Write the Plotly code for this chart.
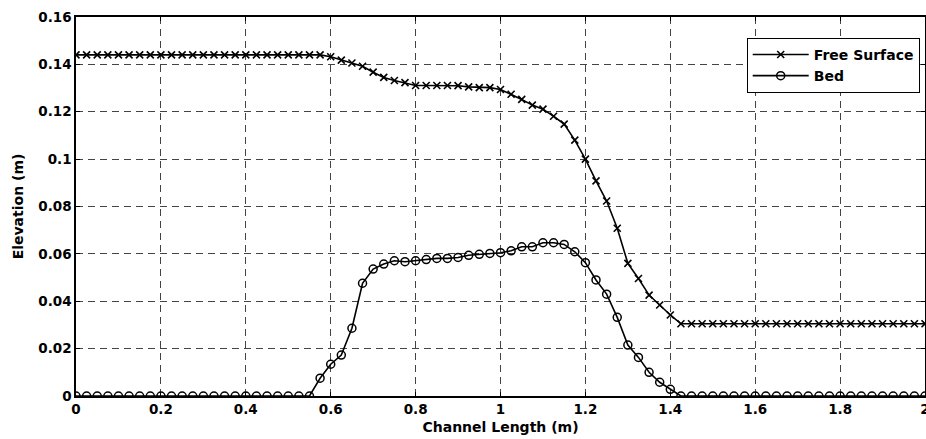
import plotly.graph_objects as go

channel_x = [0.0, 0.025, 0.05, 0.075, 0.1, 0.125, 0.15, 0.175, 0.2, 0.225, 0.25, 0.275,
             0.3, 0.325, 0.35, 0.375, 0.4, 0.425, 0.45, 0.475, 0.5, 0.525, 0.55, 0.575,
             0.6, 0.625, 0.65, 0.675, 0.7, 0.725, 0.75, 0.775, 0.8, 0.825, 0.85, 0.875,
             0.9, 0.925, 0.95, 0.975, 1.0, 1.025, 1.05, 1.075, 1.1, 1.125, 1.15, 1.175,
             1.2, 1.225, 1.25, 1.275, 1.3, 1.325, 1.35, 1.375, 1.4, 1.425, 1.45, 1.475,
             1.5, 1.525, 1.55, 1.575, 1.6, 1.625, 1.65, 1.675, 1.7, 1.725, 1.75, 1.775,
             1.8, 1.825, 1.85, 1.875, 1.9, 1.925, 1.95, 1.975, 2.0]

free_surface = [0.144] * 24 + [
    0.1432, 0.1418, 0.1406, 0.1392, 0.1367, 0.1345, 0.1332, 0.1323, 0.1311, 0.1311,
    0.1311, 0.1311, 0.1310, 0.1305, 0.1302, 0.1302, 0.1294, 0.1274, 0.1252, 0.1228,
    0.1211, 0.1181, 0.1148, 0.1080, 0.1000, 0.0908, 0.0823, 0.0708, 0.0560, 0.0496,
    0.0426, 0.0384, 0.0342, 0.0305] + [0.0305] * 23

bed = [0.0] * 23 + [
    0.0075, 0.0134, 0.0173, 0.0286, 0.0476, 0.0536, 0.0557, 0.0571, 0.0567, 0.0571,
    0.0576, 0.0581, 0.0581, 0.0585, 0.0594, 0.0598, 0.0602, 0.0605, 0.0613, 0.0630,
    0.0630, 0.0647, 0.0647, 0.0640, 0.0609, 0.0563, 0.0490, 0.0430, 0.0332, 0.0215,
    0.0163, 0.0100, 0.0058, 0.0028] + [0.0] * 24

x_ticks = [0, 0.2, 0.4, 0.6, 0.8, 1.0, 1.2, 1.4, 1.6, 1.8, 2.0]
x_labels = ["0", "0.2", "0.4", "0.6", "0.8", "1", "1.2", "1.4", "1.6", "1.8", "2"]
y_ticks = [0, 0.02, 0.04, 0.06, 0.08, 0.1, 0.12, 0.14, 0.16]
y_labels = ["0", "0.02", "0.04", "0.06", "0.08", "0.1", "0.12", "0.14", "0.16"]

FONT = "DejaVu Sans"

fig = go.Figure()
fig.add_trace(go.Scatter(
    x=channel_x, y=free_surface, name="Free Surface", mode="lines+markers",
    line=dict(color="black", width=1.6),
    marker=dict(symbol="x-thin-open", size=7, color="black", line=dict(color="black", width=1.6)),
))
fig.add_trace(go.Scatter(
    x=channel_x, y=bed, name="Bed", mode="lines+markers",
    line=dict(color="black", width=1.6),
    marker=dict(symbol="circle-open", size=8, color="black", line=dict(color="black", width=1.5)),
))

axis_common = dict(
    showline=True, linecolor="black", linewidth=1.5, mirror="ticks",
    ticks="inside", ticklen=4, tickcolor="black", tickwidth=1,
    showgrid=True, gridcolor="#444444", gridwidth=1, griddash="7px,5px",
    zeroline=False, automargin=False, ticklabeloverflow="allow",
    tickfont=dict(family=FONT, size=13.5, weight="bold", color="black"),
)

fig.update_layout(
    width=926, height=439,
    margin=dict(l=76, r=1, t=17, b=43, autoexpand=False),
    paper_bgcolor="white", plot_bgcolor="white",
    font=dict(family=FONT, size=14, color="black", weight="bold"),
    xaxis=dict(range=[0, 2], tickvals=x_ticks, ticktext=x_labels,
               title=dict(text="Channel Length (m)", standoff=6,
                          font=dict(family=FONT, size=14, weight="bold")),
               **axis_common),
    yaxis=dict(range=[0, 0.16], tickvals=y_ticks, ticktext=y_labels,
               title=dict(text="Elevation (m)", standoff=11,
                          font=dict(family=FONT, size=14, weight="bold")),
               **axis_common),
    legend=dict(x=0.79, xanchor="left", y=0.945, yanchor="top",
                bgcolor="white", bordercolor="black", borderwidth=1,
                font=dict(family=FONT, size=14, weight="bold"), tracegroupgap=0,
                itemwidth=56, entrywidth=128, entrywidthmode="pixels"),
    showlegend=True,
)

fig.write_html(
    "out.html",
    config={"displayModeBar": False},
    post_script="document.body.style.margin='0';document.body.style.overflow='hidden';",
)
